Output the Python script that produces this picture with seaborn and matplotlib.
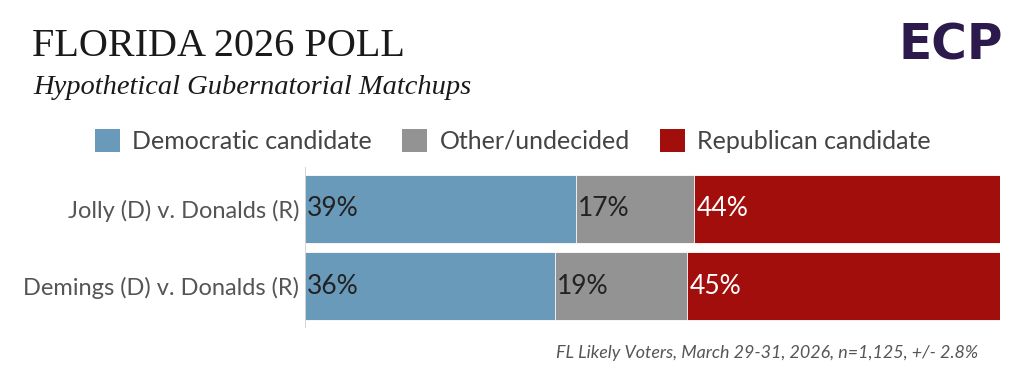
import numpy as np
import pandas as pd
import matplotlib
matplotlib.use("Agg")
import matplotlib.pyplot as plt
from matplotlib.patches import Patch
import seaborn as sns

matchups = ["Jolly (D) v. Donalds (R)", "Demings (D) v. Donalds (R)"]
dem = [39, 36]
other = [17, 19]
rep = [44, 45]
series_names = ["Democratic candidate", "Other/undecided", "Republican candidate"]
colors = ["#6a9aba", "#939393", "#a20e0c"]
label_colors = ["#222222", "#222222", "#ffffff"]

df = pd.DataFrame({"matchup": matchups, "dem": dem, "other": other, "rep": rep})
df["c1"] = df["dem"]
df["c2"] = df["dem"] + df["other"]
df["c3"] = df["dem"] + df["other"] + df["rep"]

sns.set_style("white")
plt.rcParams["font.family"] = ["Lato", "DejaVu Sans"]

fig = plt.figure(figsize=(10.24, 3.78), dpi=100)
ax = fig.add_axes([305 / 1024, 1 - 328 / 378, 695 / 1024, 161 / 378])

# stacked look: draw cumulative totals back to front
for col, c in zip(["c3", "c2", "c1"], colors[::-1]):
    sns.barplot(data=df, x=col, y="matchup", color=c, orient="h", width=0.88,
                ax=ax, saturation=1, edgecolor="white", linewidth=0.6)

ax.set_xlim(0, 100)
ax.set_ylim(1.545, -0.545)
ax.set_xlabel("")
ax.set_ylabel("")
ax.set_xticks([])
sns.despine(ax=ax, left=True, bottom=True, right=True, top=True)
ax.axvline(0, color="#cccccc", lw=1.2)
ax.tick_params(axis="y", length=0, pad=4, labelsize=17, labelcolor="#555555")

for i in range(len(matchups)):
    starts = [0, df["c1"][i], df["c2"][i]]
    vals = [dem[i], other[i], rep[i]]
    for s, v, lc in zip(starts, vals, label_colors):
        ax.text(s + 0.3, i, f"{v}%", va="center", ha="left", fontsize=19, color=lc)

handles = [Patch(facecolor=c, edgecolor="none") for c in colors]
fig.legend(handles, series_names, loc="center", bbox_to_anchor=(513 / 1024, 1 - 141 / 378),
           ncol=3, frameon=False, fontsize=18, handlelength=1.0, handleheight=1.0,
           handletextpad=0.5, columnspacing=1.2, labelcolor="#444444")

fig.text(32 / 1024, 1 - 47 / 378, "FLORIDA 2026 POLL", family="Liberation Serif",
         fontsize=29, color="#1a1a1a", va="center", ha="left")
fig.text(33 / 1024, 1 - 87 / 378, "Hypothetical Gubernatorial Matchups",
         family="Liberation Serif", style="italic", fontsize=20.5, color="#1a1a1a",
         va="center", ha="left")
fig.text(978 / 1024, 1 - 353 / 378, "FL Likely Voters, March 29-31, 2026, n=1,125, +/- 2.8%",
         style="italic", fontsize=12.9, color="#555555", ha="right", va="center")
fig.text(951 / 1024, 1 - 45 / 378, "ECP", family="DejaVu Sans", weight="bold",
         fontsize=35, color="#2c1a4d", ha="center", va="center")

fig.savefig("out.png", dpi=100, facecolor="white")
